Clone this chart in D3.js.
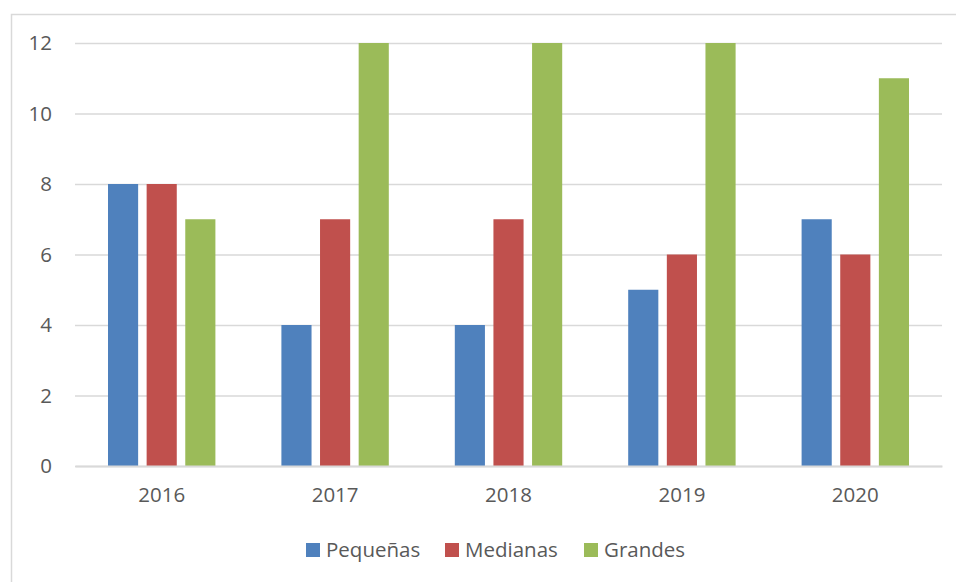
<!DOCTYPE html>
<html><head><meta charset="utf-8">
<script src="https://cdn.jsdelivr.net/npm/d3@7/dist/d3.min.js"></script>
<style>
html,body{margin:0;padding:0;background:#fff;}
svg{display:block;}
text{font-family:"Open Sans","Noto Sans",sans-serif;fill:#595959;}
</style></head>
<body>
<svg id="chart" width="956" height="582"></svg>
<script>
const categories = ["2016","2017","2018","2019","2020"];
const seriesNames = ["Pequeñas","Medianas","Grandes"];
const pequenas = [8,4,4,5,7];
const medianas = [8,7,7,6,6];
const grandes = [7,12,12,12,11];
const yTicks = [0,2,4,6,8,10,12];
const colors = ["#4F81BD","#C0504D","#9BBB59"];

const seriesValues = [pequenas, medianas, grandes];
const svg = d3.select("#chart");
const FS = 20.5;

// outer border
svg.append("rect").attr("x",11.5).attr("y",14.5).attr("width",1000).attr("height",1000)
  .attr("fill","none").attr("stroke","#D9D9D9").attr("stroke-width",1.5);

const x0 = d3.scaleBand().domain(categories).range([75,942]).paddingInner(0).paddingOuter(0);
const x1 = d3.scaleBand().domain(seriesNames).range([33, x0.bandwidth()-33]).paddingInner(0.22).paddingOuter(0);
const y = d3.scaleLinear().domain([0,12]).range([466,43]);

// gridlines
const yAxis = d3.axisLeft(y).tickValues(yTicks).tickSize(-(942-75)).tickPadding(23).tickFormat(d3.format("d"));
const ga = svg.append("g").attr("transform","translate(75,0)").call(yAxis);
ga.select(".domain").remove();
ga.selectAll(".tick line").attr("stroke","#D9D9D9").attr("stroke-width",1.3);
ga.selectAll(".tick text").attr("font-size",FS).attr("fill","#595959").attr("dy","0.34em")
  .style("font-family","'Open Sans','Noto Sans',sans-serif");

// bars
const groups = svg.append("g").selectAll("g").data(categories).join("g")
  .attr("transform", d => `translate(${x0(d)},0)`);
groups.selectAll("rect").data((d,i) => seriesNames.map((s,j) => ({s, v: seriesValues[j][i], j})))
  .join("rect")
  .attr("x", d => x1(d.s))
  .attr("width", x1.bandwidth())
  .attr("y", d => y(d.v))
  .attr("height", d => y(0) - y(d.v))
  .attr("fill", d => colors[d.j]);

// x axis
const xAxis = d3.axisBottom(x0).tickSize(0).tickPadding(21);
const gx = svg.append("g").attr("transform","translate(0,466)").call(xAxis);
gx.select(".domain").attr("stroke","#D9D9D9").attr("stroke-width",2);
gx.selectAll(".tick text").attr("font-size",FS).attr("fill","#595959")
  .style("font-family","'Open Sans','Noto Sans',sans-serif");

// legend
const legendX = [306, 445, 584];
const lg = svg.append("g");
seriesNames.forEach((s,i) => {
  lg.append("rect").attr("x",legendX[i]).attr("y",543).attr("width",14).attr("height",14).attr("fill",colors[i]);
  lg.append("text").attr("x",legendX[i]+20).attr("y",550).attr("dy","0.35em")
    .attr("font-size",FS).text(s);
});
</script>
</body></html>
